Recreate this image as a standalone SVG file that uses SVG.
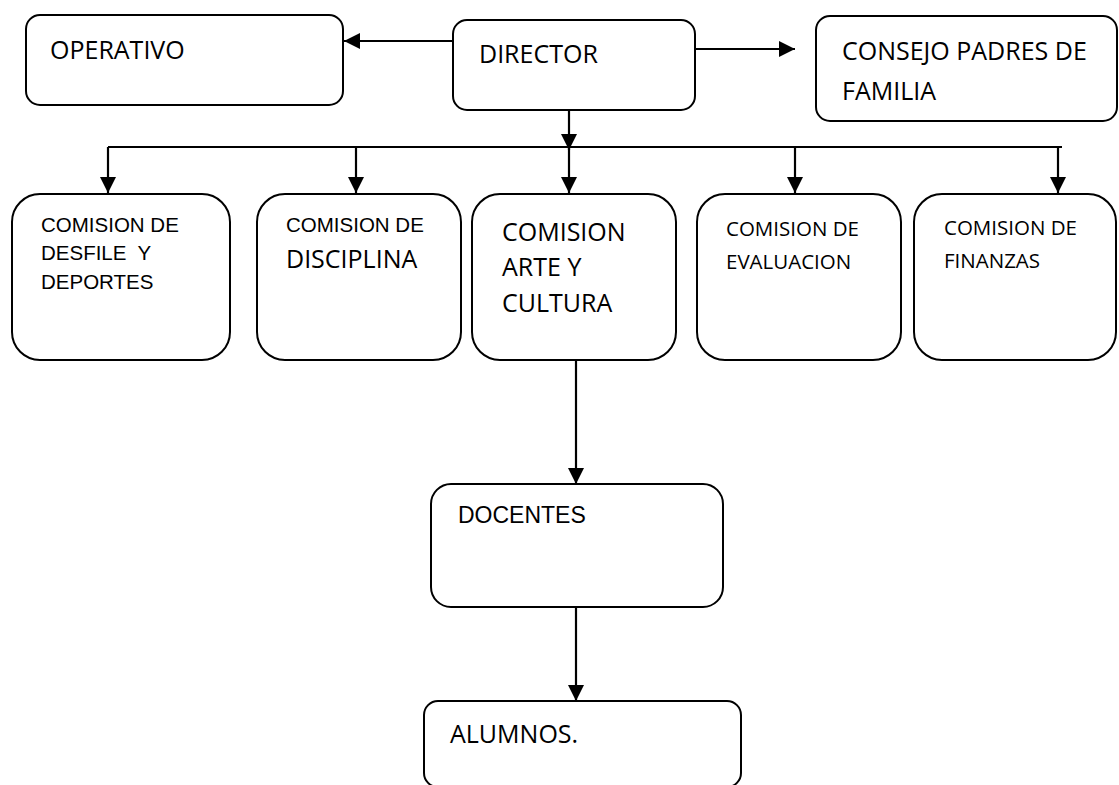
<svg xmlns="http://www.w3.org/2000/svg" width="1119" height="785" viewBox="0 0 1119 785">
<style>
.box{fill:#fff;stroke:#000;stroke-width:2}
.c{fill:none;stroke:#000;stroke-width:2.2}
.cal{font-family:"Open Sans","Liberation Sans",sans-serif;fill:#000}
.ari{font-family:"Liberation Sans",Arial,sans-serif;fill:#000;white-space:pre}
</style>
<defs>
<marker id="ah" viewBox="0 0 16 16" refX="16" refY="8" markerWidth="16" markerHeight="16" markerUnits="userSpaceOnUse" orient="auto">
<path d="M0,0 L16,8 L0,16 Z" fill="#000"/>
</marker>
</defs>
<rect width="1119" height="785" fill="#fff"/>
<g id="connectors">
<line class="c" x1="453" y1="41" x2="344" y2="41" marker-end="url(#ah)"/>
<line class="c" x1="695" y1="49" x2="795" y2="49" marker-end="url(#ah)"/>
<line class="c" x1="569" y1="110" x2="569" y2="150" marker-end="url(#ah)"/>
<line class="c" x1="108" y1="147" x2="1062" y2="147"/>
<line class="c" x1="108" y1="147" x2="108" y2="193" marker-end="url(#ah)"/>
<line class="c" x1="356" y1="147" x2="356" y2="193" marker-end="url(#ah)"/>
<line class="c" x1="569" y1="147" x2="569" y2="193" marker-end="url(#ah)"/>
<line class="c" x1="795" y1="147" x2="795" y2="193" marker-end="url(#ah)"/>
<line class="c" x1="1058" y1="147" x2="1058" y2="193" marker-end="url(#ah)"/>
<line class="c" x1="576" y1="360" x2="576" y2="484" marker-end="url(#ah)"/>
<line class="c" x1="576" y1="607" x2="576" y2="701" marker-end="url(#ah)"/>
</g>
<g id="operativo">
<rect class="box" x="26" y="15" width="317" height="90" rx="14"/>
<text class="cal" x="50" y="59" font-size="25">OPERATIVO</text>
</g>
<g id="director">
<rect class="box" x="453" y="20" width="242" height="90" rx="14"/>
<text class="cal" x="479" y="63" font-size="25">DIRECTOR</text>
</g>
<g id="consejo">
<rect class="box" x="816" y="16" width="301" height="105" rx="14"/>
<text class="cal" x="842" y="60" font-size="25">CONSEJO PADRES DE</text>
<text class="cal" x="842" y="100" font-size="25">FAMILIA</text>
</g>
<g id="desfile">
<rect class="box" x="12" y="194" width="218" height="166" rx="28"/>
<text class="ari" x="41" y="232" font-size="20.5">COMISION DE</text>
<text class="ari" x="41" y="260" font-size="20.5">DESFILE  Y</text>
<text class="ari" x="41" y="289" font-size="20.5">DEPORTES</text>
</g>
<g id="disciplina">
<rect class="box" x="257" y="194" width="204" height="166" rx="28"/>
<text class="ari" x="286" y="232" font-size="20.5">COMISION DE</text>
<text class="cal" x="286" y="268" font-size="25">DISCIPLINA</text>
</g>
<g id="arte">
<rect class="box" x="472" y="194" width="204" height="166" rx="28"/>
<text class="cal" x="502" y="241" font-size="25">COMISION</text>
<text class="cal" x="502" y="276" font-size="25">ARTE Y</text>
<text class="cal" x="502" y="312" font-size="25">CULTURA</text>
</g>
<g id="evaluacion">
<rect class="box" x="697" y="194" width="204" height="166" rx="28"/>
<text class="cal" x="726" y="236" font-size="20.5">COMISION DE</text>
<text class="cal" x="726" y="269" font-size="20.5">EVALUACION</text>
</g>
<g id="finanzas">
<rect class="box" x="914" y="194" width="202" height="166" rx="28"/>
<text class="cal" x="944" y="235" font-size="20.5">COMISION DE</text>
<text class="cal" x="944" y="268" font-size="20.5">FINANZAS</text>
</g>
<g id="docentes">
<rect class="box" x="431" y="484" width="292" height="123" rx="20"/>
<text class="ari" x="458" y="523" font-size="23">DOCENTES</text>
</g>
<g id="alumnos">
<rect class="box" x="424" y="701" width="317" height="86" rx="14"/>
<text class="cal" x="450" y="743" font-size="25">ALUMNOS.</text>
</g>
</svg>
